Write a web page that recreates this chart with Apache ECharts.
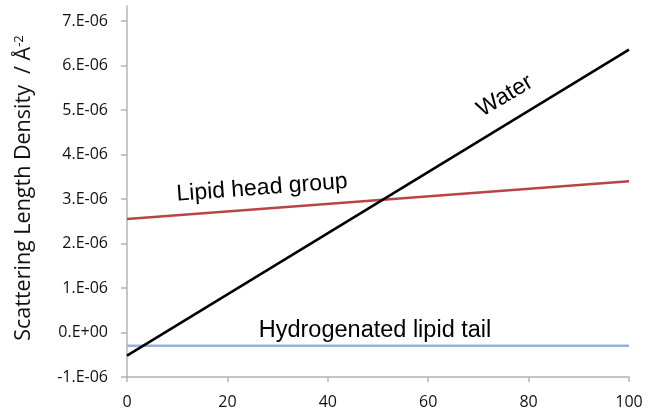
<!DOCTYPE html>
<html>
<head>
<meta charset="utf-8">
<script src="https://cdn.jsdelivr.net/npm/echarts@6/dist/echarts.min.js"></script>
<style>html,body{margin:0;padding:0;background:#fff}#c{width:652px;height:414px}</style>
</head>
<body>
<div id="c"></div>
<script>
// Data
const xValues = [0, 100];
const waterSLD = [-0.52e-6, 6.36e-6];
const headGroupSLD = [2.55e-6, 3.40e-6];
const hTailSLD = [-0.30e-6, -0.30e-6];
const yTickValues = [-1e-6, 0, 1e-6, 2e-6, 3e-6, 4e-6, 5e-6, 6e-6, 7e-6];
const yTickLabels = ['-1.E-06', '0.E+00', '1.E-06', '2.E-06', '3.E-06', '4.E-06', '5.E-06', '6.E-06', '7.E-06'];
const xTickValues = [0, 20, 40, 60, 80, 100];

const pairs = ys => xValues.map((x, i) => [x, ys[i]]);

const chart = echarts.init(document.getElementById('c'), null, {renderer: 'canvas'});
const axisGrey = '#b3b3b3';
const tickFont = 'Open Sans';
chart.setOption({
  animation: false,
  grid: {left: 127, right: 23, top: 6, bottom: 37, containLabel: false},
  xAxis: {
    type: 'value', min: 0, max: 100, interval: 20,
    axisLine: {show: true, onZero: false, lineStyle: {color: axisGrey, width: 1.5}},
    axisTick: {show: true, length: 5, lineStyle: {color: axisGrey, width: 1.5}},
    axisLabel: {fontFamily: tickFont, fontSize: 16, color: '#111', margin: 17},
    splitLine: {show: false}
  },
  yAxis: [{
    type: 'value', min: -1e-6, max: 7.34e-6,
    axisLine: {show: true, onZero: false, lineStyle: {color: axisGrey, width: 1.5}},
    axisTick: {show: true, length: 6, customValues: yTickValues, lineStyle: {color: axisGrey, width: 1.5}},
    axisLabel: {
      customValues: yTickValues, fontFamily: tickFont, fontSize: 16, color: '#111', margin: 19,
      formatter: v => yTickLabels[Math.round(v * 1e6) + 1]
    },
    splitLine: {show: false}
  }, {
    type: 'value', min: -1e-6, max: 7.34e-6, position: 'right',
    axisLine: {show: true, lineStyle: {color: '#c8c8c8', width: 1}},
    axisTick: {show: false}, axisLabel: {show: false}, splitLine: {show: false}
  }],
  series: [
    {type: 'line', data: pairs(hTailSLD), symbol: 'none', lineStyle: {color: '#97b0dc', width: 2.5}, z: 2},
    {type: 'line', data: pairs(headGroupSLD), symbol: 'none', lineStyle: {color: '#b94444', width: 2.5}, z: 3},
    {type: 'line', data: pairs(waterSLD), symbol: 'none', lineStyle: {color: '#000000', width: 2.5}, z: 4}
  ],
  graphic: [
    {type: 'text', x: 24, y: 188, rotation: Math.PI / 2,
     style: {
       text: '{a|Scattering Length Density  / Å}{s|-2}', align: 'center', verticalAlign: 'middle',
       rich: {
         a: {fontFamily: tickFont, fontSize: 21.5, fill: '#111'},
         s: {fontFamily: tickFont, fontSize: 13, fill: '#111', verticalAlign: 'top', padding: [0, 0, 10, 0]}
       }
     }},
    {type: 'text', x: 505, y: 96, rotation: 31 * Math.PI / 180,
     style: {text: 'Water', font: '23px "Liberation Sans"', fill: '#000', align: 'center', verticalAlign: 'middle'}},
    {type: 'text', x: 262, y: 188, rotation: 4.3 * Math.PI / 180,
     style: {text: 'Lipid head group', font: '23px "Liberation Sans"', fill: '#000', align: 'center', verticalAlign: 'middle'}},
    {type: 'text', x: 375, y: 331,
     style: {text: 'Hydrogenated lipid tail', font: '23.5px "Liberation Sans"', fill: '#000', align: 'center', verticalAlign: 'middle'}}
  ]
});
</script>
</body>
</html>
